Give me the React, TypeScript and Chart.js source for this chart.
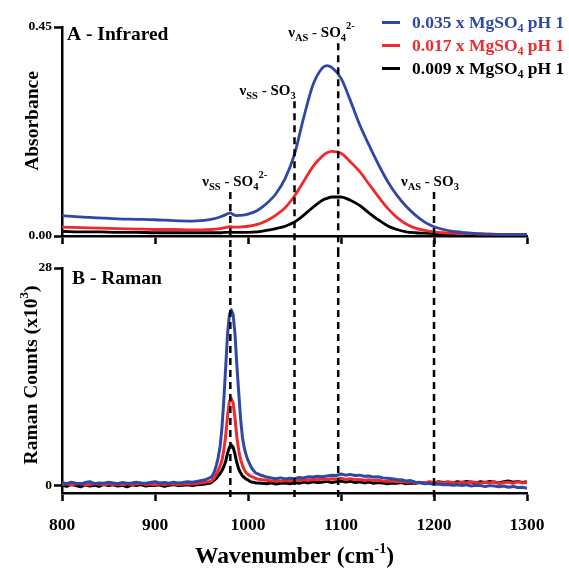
import React, { useEffect, useRef } from 'react';
import { Chart, registerables } from 'chart.js';

Chart.register(...registerables);

// ---------------- DATA ----------------
const irWavenumber = [800, 820, 840, 860, 880, 900, 920, 940, 950, 960, 970, 975, 978, 981, 984, 988, 995,
  1000, 1010, 1020, 1030, 1040, 1050, 1060, 1070, 1080, 1085, 1090, 1100, 1110, 1120, 1130, 1140, 1150,
  1160, 1170, 1180, 1190, 1200, 1210, 1220, 1230, 1240, 1250, 1260, 1280, 1300];

const irBlue = [0.044, 0.041, 0.039, 0.037, 0.036, 0.035, 0.033, 0.032, 0.033, 0.036, 0.041, 0.045, 0.048, 0.050, 0.046, 0.044, 0.045,
  0.047, 0.055, 0.070, 0.091, 0.124, 0.176, 0.256, 0.326, 0.362, 0.367, 0.363, 0.340, 0.292, 0.240, 0.196, 0.155, 0.118,
  0.088, 0.064, 0.045, 0.030, 0.020, 0.014, 0.010, 0.008, 0.006, 0.005, 0.004, 0.003, 0.003];

const irRed = [0.019, 0.018, 0.017, 0.016, 0.015, 0.014, 0.014, 0.013, 0.013, 0.014, 0.016, 0.018, 0.019, 0.020, 0.019, 0.019, 0.020,
  0.021, 0.025, 0.033, 0.045, 0.061, 0.086, 0.118, 0.150, 0.172, 0.179, 0.182, 0.178, 0.160, 0.139, 0.112, 0.085, 0.060,
  0.040, 0.026, 0.017, 0.012, 0.009, 0.007, 0.006, 0.005, 0.005, 0.004, 0.004, 0.003, 0.003];

const irBlack = [0.010, 0.009, 0.009, 0.008, 0.008, 0.007, 0.007, 0.007, 0.007, 0.007, 0.007, 0.008, 0.008, 0.009, 0.008, 0.008, 0.008,
  0.008, 0.009, 0.012, 0.016, 0.021, 0.030, 0.045, 0.062, 0.077, 0.081, 0.084, 0.084, 0.077, 0.066, 0.050, 0.035, 0.022,
  0.014, 0.009, 0.007, 0.006, 0.005, 0.004, 0.004, 0.003, 0.003, 0.003, 0.003, 0.003, 0.003];

const ramanWavenumber = [
  800, 805, 810, 815, 820, 825, 830, 835, 840, 845, 850, 855, 860, 865, 870, 875,
  880, 885, 890, 895, 900, 905, 910, 915, 920, 925, 930, 935, 940, 945, 950, 955,
  960, 962, 964, 966, 968, 970, 972, 974, 976, 978, 980, 982, 984, 986, 988, 990,
  992, 994, 996, 998, 1000, 1002, 1004, 1006, 1008, 1010,
  1015, 1020, 1025, 1030, 1035, 1040, 1045, 1050,
  1055, 1060, 1065, 1070, 1075, 1080, 1085, 1090, 1095, 1100,
  1105, 1110, 1115, 1120, 1125, 1130, 1135, 1140, 1145, 1150,
  1155, 1160, 1165, 1170, 1175, 1180, 1185, 1190, 1195, 1200,
  1205, 1210, 1215, 1220, 1225, 1230, 1235, 1240, 1245, 1250,
  1255, 1260, 1265, 1270, 1275, 1280, 1285, 1290, 1295, 1300];

const ramanBlue = [
  0.35, 0.20, 0.40, 0.25, 0.15, 0.35, 0.45, 0.20, 0.30, 0.25, 0.40, 0.30, 0.20, 0.35, 0.25, 0.30,
  0.40, 0.30, 0.25, 0.35, 0.45, 0.30, 0.35, 0.25, 0.40, 0.30, 0.35, 0.45, 0.40, 0.50, 0.60, 0.75,
  1.0, 1.3, 1.8, 2.6, 3.6, 5.0, 7.4, 11.0, 15.2, 19.5, 22.0, 22.6, 22.0, 19.5, 15.5, 12.0,
  8.6, 6.2, 4.8, 3.9, 3.2, 2.7, 2.2, 1.9, 1.6, 1.5,
  1.25, 1.05, 0.95, 0.85, 0.95, 0.80, 0.90, 0.85,
  1.00, 0.95, 1.10, 1.05, 1.15, 1.10, 1.20, 1.30, 1.25, 1.45,
  1.30, 1.40, 1.25, 1.30, 1.15, 1.20, 1.05, 1.10, 0.95, 0.90,
  0.85, 0.75, 0.70, 0.55, 0.60, 0.40, 0.35, 0.20, 0.25, 0.10,
  0.15, 0.05, 0.10, 0.00, 0.05, -0.05, 0.05, -0.10, 0.00, -0.05,
  -0.15, -0.05, -0.10, -0.20, -0.10, -0.25, -0.15, -0.30, -0.25, -0.40];

const ramanRed = [
  0.10, 0.20, 0.05, 0.15, 0.25, 0.05, 0.10, 0.20, 0.15, 0.05, 0.20, 0.10, 0.15, 0.05, 0.20, 0.10,
  0.15, 0.25, 0.10, 0.15, 0.05, 0.20, 0.10, 0.15, 0.20, 0.10, 0.15, 0.20, 0.15, 0.25, 0.30, 0.40,
  0.5, 0.7, 1.0, 1.4, 1.9, 2.5, 3.2, 4.5, 6.4, 8.9, 10.8, 11.2, 10.6, 8.7, 6.2, 4.5,
  3.3, 2.6, 2.0, 1.6, 1.4, 1.2, 1.1, 1.0, 0.9, 0.8,
  0.70, 0.65, 0.55, 0.60, 0.50, 0.60, 0.55, 0.65,
  0.60, 0.70, 0.65, 0.75, 0.70, 0.80, 0.75, 0.85, 0.80, 0.90,
  0.75, 0.85, 0.70, 0.75, 0.65, 0.70, 0.60, 0.65, 0.55, 0.50,
  0.55, 0.45, 0.50, 0.40, 0.45, 0.35, 0.40, 0.30, 0.45, 0.35,
  0.40, 0.30, 0.45, 0.35, 0.25, 0.40, 0.30, 0.45, 0.35, 0.25,
  0.40, 0.30, 0.45, 0.20, 0.35, 0.40, 0.25, 0.45, 0.30, 0.35];

const ramanBlack = [
  0.00, -0.15, 0.10, -0.05, -0.20, 0.05, -0.10, 0.00, -0.15, 0.10, -0.05, 0.05, -0.10, 0.00, -0.20, 0.05,
  -0.05, 0.10, -0.10, 0.00, -0.05, 0.05, -0.15, 0.00, 0.10, -0.05, 0.00, 0.05, -0.05, 0.05, 0.10, 0.20,
  0.3, 0.5, 0.7, 0.9, 1.2, 1.5, 1.9, 2.4, 3.1, 4.1, 4.9, 5.2, 4.9, 4.0, 2.9, 2.1,
  1.6, 1.2, 1.0, 0.8, 0.7, 0.5, 0.4, 0.4, 0.3, 0.3,
  0.25, 0.20, 0.30, 0.15, 0.25, 0.30, 0.20, 0.35,
  0.25, 0.40, 0.30, 0.45, 0.35, 0.40, 0.50, 0.35, 0.45, 0.55,
  0.40, 0.50, 0.35, 0.45, 0.30, 0.40, 0.25, 0.35, 0.30, 0.20,
  0.30, 0.25, 0.35, 0.20, 0.30, 0.25, 0.35, 0.30, 0.40, 0.30,
  0.45, 0.35, 0.40, 0.30, 0.45, 0.35, 0.50, 0.40, 0.30, 0.45,
  0.35, 0.50, 0.40, 0.30, 0.45, 0.55, 0.40, 0.50, 0.35, 0.45];

const seriesConcentrations = ['0.035', '0.017', '0.009'];
const seriesColors = ['#3047a3', '#ee2a2b', '#000000'];

const irYTicks = [0, 0.45];
const ramanYTicks = [0, 28];
const xTickStep = 100;

// band markers: wavenumber, mode, ion (sub, sup), top of dashed line (absorbance units)
const bandWavenumbers = [981, 1050, 1097, 1200];
const bandModes = ['SS', 'SS', 'AS', 'AS'];
const bandSubscripts = ['4', '3', '4', '3'];
const bandSuperscripts = ['2-', '', '2-', ''];
const bandLineTops = [0.095, 0.29, 0.415, 0.095];

// ---------------- STYLE ----------------
const FONT = '"Liberation Serif", "Times New Roman", serif';
const bandLabelDx = [-28, -55, -50, -33];
const LEFT_AXIS_W = 62;
const RIGHT_PAD = 42;

type Seg = { t: string; size: number; dy: number };

function segWidth(ctx: CanvasRenderingContext2D, segs: Seg[]) {
  let w = 0;
  for (const s of segs) {
    ctx.font = `bold ${s.size}px ${FONT}`;
    w += ctx.measureText(s.t).width;
  }
  return w;
}

function drawSegs(ctx: CanvasRenderingContext2D, segs: Seg[], x: number, y: number, color: string) {
  let cx = x;
  ctx.fillStyle = color;
  ctx.textBaseline = 'alphabetic';
  ctx.textAlign = 'left';
  for (const s of segs) {
    ctx.font = `bold ${s.size}px ${FONT}`;
    ctx.fillText(s.t, cx, y + s.dy);
    cx += ctx.measureText(s.t).width;
  }
}

function bandSegs(i: number): Seg[] {
  const segs: Seg[] = [
    { t: 'ν', size: 15, dy: 0 },
    { t: bandModes[i], size: 10.5, dy: 4 },
    { t: ' - SO', size: 15, dy: 0 },
    { t: bandSubscripts[i], size: 10.5, dy: 4 },
  ];
  if (bandSuperscripts[i]) segs.push({ t: bandSuperscripts[i], size: 10.5, dy: -8 });
  return segs;
}

function dashed(ctx: CanvasRenderingContext2D, x: number, y0: number, y1: number) {
  ctx.save();
  ctx.strokeStyle = '#000';
  ctx.lineWidth = 2.5;
  ctx.setLineDash([7, 5]);
  ctx.beginPath();
  ctx.moveTo(x, y0);
  ctx.lineTo(x, y1);
  ctx.stroke();
  ctx.restore();
}

function xAxisBase(showLabels: boolean, height: number, labelPad: number) {
  return {
    type: 'linear' as const,
    min: 800,
    max: 1300,
    afterFit: (s: any) => { s.height = height; },
    ticks: {
      stepSize: xTickStep,
      display: showLabels,
      padding: labelPad,
      color: '#000',
      font: { family: FONT, size: 17.5, weight: 'bold' as const },
      callback: (v: any) => String(v),
      maxRotation: 0,
      autoSkip: false,
    },
    grid: { drawOnChartArea: false, drawTicks: true, tickLength: 8, tickWidth: 2.5, tickColor: '#000', color: '#000' },
    border: { display: true, color: '#000', width: 2.5 },
  };
}

function yAxisBase(min: number, max: number, tickVals: number[], fmt: (v: number) => string) {
  return {
    type: 'linear' as const,
    min,
    max,
    afterFit: (s: any) => { s.width = LEFT_AXIS_W; },
    afterBuildTicks: (s: any) => { s.ticks = tickVals.map((v) => ({ value: v })); },
    ticks: {
      padding: 2,
      color: '#000',
      font: { family: FONT, size: 13.5, weight: 'bold' as const },
      callback: (v: any) => fmt(Number(v)),
    },
    grid: { drawOnChartArea: false, drawTicks: true, tickLength: 8, tickWidth: 2.5, tickColor: '#000', color: '#000' },
    border: { display: true, color: '#000', width: 2.5 },
  };
}

function makeDataset(xs: number[], ys: number[], i: number, smooth: boolean) {
  return {
    label: seriesConcentrations[i],
    data: xs.map((x, k) => ({ x, y: ys[k] })),
    borderColor: seriesColors[i],
    backgroundColor: seriesColors[i],
    borderWidth: smooth ? 2.8 : 3,
    pointRadius: 0,
    fill: false,
    cubicInterpolationMode: smooth ? ('monotone' as const) : ('default' as const),
    tension: smooth ? 0.4 : 0,
    borderJoinStyle: 'round' as const,
  };
}

export default function App() {
  const irRef = useRef<HTMLCanvasElement>(null);
  const ramanRef = useRef<HTMLCanvasElement>(null);

  useEffect(() => {
    const irDecor = {
      id: 'irDecor',
      afterDatasetsDraw(chart: any) {
        const ctx: CanvasRenderingContext2D = chart.ctx;
        const xs = chart.scales.x;
        const ys = chart.scales.y;
        const area = chart.chartArea;
        // dashed band lines + labels
        bandWavenumbers.forEach((w, i) => {
          const px = xs.getPixelForValue(w);
          const top = ys.getPixelForValue(bandLineTops[i]);
          dashed(ctx, px, top, chart.height);
          drawSegs(ctx, bandSegs(i), px + bandLabelDx[i], top - 6, '#000');
        });
        // panel title
        drawSegs(ctx, [{ t: 'A - Infrared', size: 19.5, dy: 0 }], area.left + 5, area.top + 12.5, '#000');
        // y title
        ctx.save();
        ctx.translate(38, (area.top + area.bottom) / 2 - 10.5);
        ctx.rotate(-Math.PI / 2);
        const tSegs: Seg[] = [{ t: 'Absorbance', size: 19.5, dy: 0 }];
        drawSegs(ctx, tSegs, -segWidth(ctx, tSegs) / 2, 0, '#000');
        ctx.restore();
        // legend
        seriesConcentrations.forEach((c, i) => {
          const ly = 22.5 + i * 23;
          ctx.save();
          ctx.strokeStyle = seriesColors[i];
          ctx.lineWidth = 3;
          ctx.beginPath();
          ctx.moveTo(382, ly);
          ctx.lineTo(400, ly);
          ctx.stroke();
          ctx.restore();
          drawSegs(ctx, [
            { t: `${c} x MgSO`, size: 17.5, dy: 0 },
            { t: '4', size: 12, dy: 4 },
            { t: ' pH 1', size: 17.5, dy: 0 },
          ], 412, ly + 5.5, seriesColors[i]);
        });
      },
    };

    const ramanDecor = {
      id: 'ramanDecor',
      afterDatasetsDraw(chart: any) {
        const ctx: CanvasRenderingContext2D = chart.ctx;
        const xs = chart.scales.x;
        const area = chart.chartArea;
        bandWavenumbers.forEach((w) => {
          const px = xs.getPixelForValue(w);
          dashed(ctx, px, 0, area.bottom + 4);
        });
        drawSegs(ctx, [{ t: 'B - Raman', size: 19.5, dy: 0 }], area.left + 10, area.top + 16, '#000');
        // y title
        ctx.save();
        ctx.translate(37, (area.top + area.bottom) / 2 - 5.5);
        ctx.rotate(-Math.PI / 2);
        const ySegs: Seg[] = [
          { t: 'Raman Counts (x10', size: 19.5, dy: 0 },
          { t: '3', size: 13, dy: -9 },
          { t: ')', size: 19.5, dy: 0 },
        ];
        drawSegs(ctx, ySegs, -segWidth(ctx, ySegs) / 2, 0, '#000');
        ctx.restore();
        // x title
        const xSegs: Seg[] = [
          { t: 'Wavenumber (cm', size: 23.5, dy: 0 },
          { t: '-1', size: 14, dy: -10 },
          { t: ')', size: 23.5, dy: 0 },
        ];
        const cx = (area.left + area.right) / 2;
        drawSegs(ctx, xSegs, cx - segWidth(ctx, xSegs) / 2, chart.height - 6, '#000');
      },
    };

    const irChart = new Chart(irRef.current as HTMLCanvasElement, {
      type: 'line',
      data: {
        datasets: [
          makeDataset(irWavenumber, irBlue, 0, true),
          makeDataset(irWavenumber, irRed, 1, true),
          makeDataset(irWavenumber, irBlack, 2, true),
        ],
      },
      options: {
        responsive: false,
        animation: false,
        devicePixelRatio: 1,
        events: [],
        layout: { padding: { top: 27, right: RIGHT_PAD, left: 0, bottom: 0 } },
        plugins: { legend: { display: false }, tooltip: { enabled: false } },
        scales: {
          x: xAxisBase(false, 14, 0) as any,
          y: yAxisBase(0, 0.45, irYTicks, (v) => v.toFixed(2)) as any,
        },
      },
      plugins: [irDecor],
    });

    const ramanChart = new Chart(ramanRef.current as HTMLCanvasElement, {
      type: 'line',
      data: {
        datasets: [
          makeDataset(ramanWavenumber, ramanBlue, 0, false),
          makeDataset(ramanWavenumber, ramanRed, 1, false),
          makeDataset(ramanWavenumber, ramanBlack, 2, false),
        ],
      },
      options: {
        responsive: false,
        animation: false,
        devicePixelRatio: 1,
        events: [],
        layout: { padding: { top: 18, right: RIGHT_PAD, left: 0, bottom: 0 } },
        plugins: { legend: { display: false }, tooltip: { enabled: false } },
        scales: {
          x: xAxisBase(true, 76, 14) as any,
          y: yAxisBase(-1, 28, ramanYTicks, (v) => String(v)) as any,
        },
      },
      plugins: [ramanDecor],
    });

    return () => {
      irChart.destroy();
      ramanChart.destroy();
    };
  }, []);

  return (
    <div style={{ position: 'fixed', left: 0, top: 0, width: 569, height: 569, background: '#fff' }}>
      <canvas ref={irRef} width={569} height={250} style={{ position: 'absolute', left: 0, top: 0 }} />
      <canvas ref={ramanRef} width={569} height={319} style={{ position: 'absolute', left: 0, top: 250 }} />
    </div>
  );
}
